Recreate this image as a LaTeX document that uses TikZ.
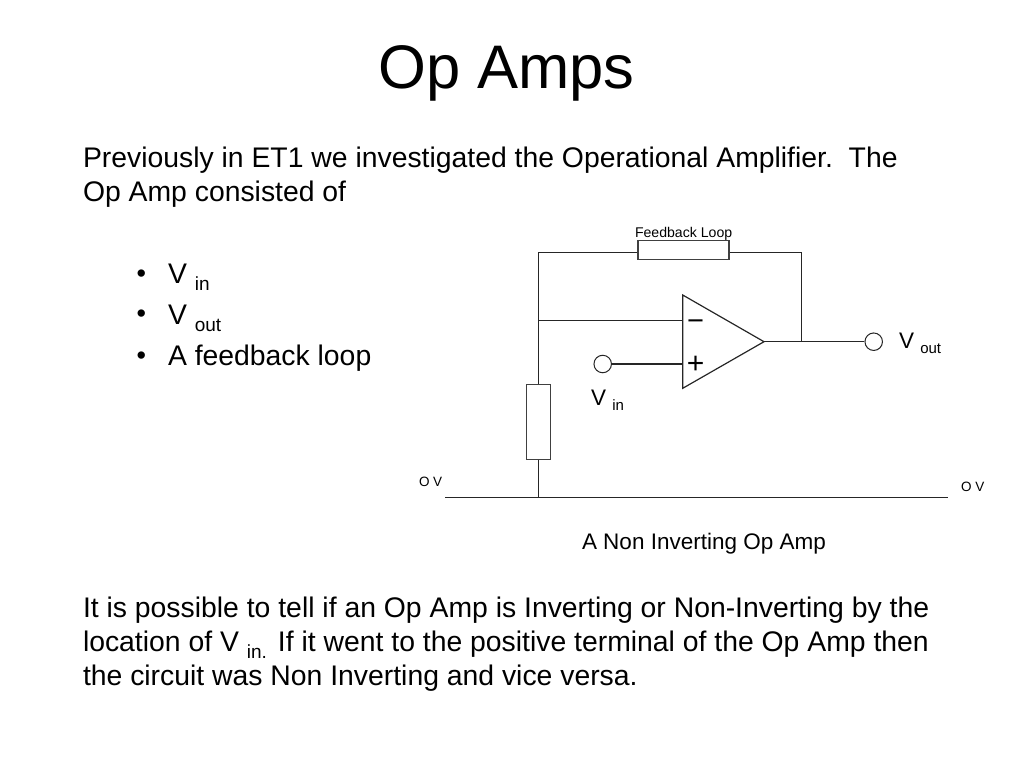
\documentclass[tikz,border=0pt]{standalone}
\usepackage{fontspec}
\setmainfont{Liberation Sans}
\newcommand{\fs}[1]{\fontsize{#1}{#1}\selectfont}
\newcommand{\subt}[3]{\raisebox{-#2pt}{\fs{#1}#3}}
\tikzset{
  x=1pt,y=-1pt,
  txt/.style={anchor=base west,inner sep=0pt,outer sep=0pt,text=black},
  wire/.style={draw=black!85,line width=1.2pt},
  comp/.style={draw=black!75,line width=1.2pt,fill=white,rectangle,inner sep=0pt},
  term/.style={draw=black!85,line width=1pt,fill=white,circle,inner sep=0pt,minimum size=17.5pt},
}
\begin{document}
\begin{tikzpicture}
\useasboundingbox (0,0) rectangle (1024,768);
% title
\node[anchor=base,inner sep=0pt] (title) at (506.5,88) {\fs{61.5}Op Amps};
% body text
\node[txt] (p1a) at (83,167) {\fs{28.35}Previously in ET1 we investigated the Operational Amplifier.\ \ The};
\node[txt] (p1b) at (83,201) {\fs{28.35}Op Amp consisted of};
\node[txt] (b1) at (136.5,282) {\fs{27}•};
\node[txt] (l1) at (168,283) {\fs{28.35}V \subt{19}{7}{in}};
\node[txt] (b2) at (136.5,322) {\fs{27}•};
\node[txt] (l2) at (168,324) {\fs{28.35}V \subt{19}{7}{out}};
\node[txt] (b3) at (136.5,364) {\fs{27}•};
\node[txt] (l3) at (168,365) {\fs{28.35}A feedback loop};
\node[txt] (p2a) at (83,617) {\fs{28.35}It is possible to tell if an Op Amp is Inverting or Non-Inverting by the};
\node[txt] (p2b) at (83,651) {\fs{28.35}location of V \subt{19}{7}{in.}\hspace{11pt}If it went to the positive terminal of the Op Amp then};
\node[txt] (p2c) at (83,685) {\fs{28.35}the circuit was Non Inverting and vice versa.};
% circuit points
\coordinate (tl) at (538.5,252.3);
\coordinate (tr) at (801.7,252.3);
\coordinate (gl) at (445,497.7);
\coordinate (gr) at (947.7,497.7);
\coordinate (gj) at (538.5,497.7);
\coordinate (mj) at (538.5,320.3);
\coordinate (tia) at (682.7,295);
\coordinate (tib) at (682.7,388.3);
\coordinate (tip) at (764,341.7);
\coordinate (minus) at (682.7,320.3);
\coordinate (plus) at (682.7,364);
\coordinate (oj) at (801.7,341.7);
% components
\node[comp,minimum width=91pt,minimum height=19pt] (rf) at (683.4,250) {};
\node[comp,minimum width=23.5pt,minimum height=75pt] (rg) at (538.5,421.8) {};
\node[term] (vin) at (602.7,364) {};
\node[term] (vout) at (873.7,341.7) {};
% wires
\draw[wire] (rf.west |- tl) -- (tl) -- (rg.north);
\draw[wire] (rf.east |- tr) -- (tr) -- (oj);
\draw[wire] (mj) -- (minus);
\draw[wire] (vin) -- (plus);
\draw[wire] (tip) -- (vout);
\draw[wire] (rg.south) -- (gj);
\draw[wire] (gl) -- (gr);
\draw[wire,line join=miter] (tia) -- (tip) -- (tib) -- cycle;
% labels
\node[anchor=base,inner sep=0pt] (sm) at (695.5,330) {\fs{29}−};
\node[anchor=base,inner sep=0pt] (sp) at (695.5,373.5) {\fs{30}+};
\node[txt] (fl) at (635,237) {\fs{14.1}Feedback Loop};
\node[txt] (vi) at (591,405) {\fs{22.5}V \subt{15}{5}{in}};
\node[txt] (vo) at (899,348) {\fs{22.5}V \subt{15}{5}{out}};
\node[txt] (g1) at (419,486) {\fs{13.5}O V};
\node[txt] (g2) at (961,491) {\fs{13.5}O V};
\node[txt] (cap) at (582,549) {\fs{22.5}A Non Inverting Op Amp};
\end{tikzpicture}
\end{document}
